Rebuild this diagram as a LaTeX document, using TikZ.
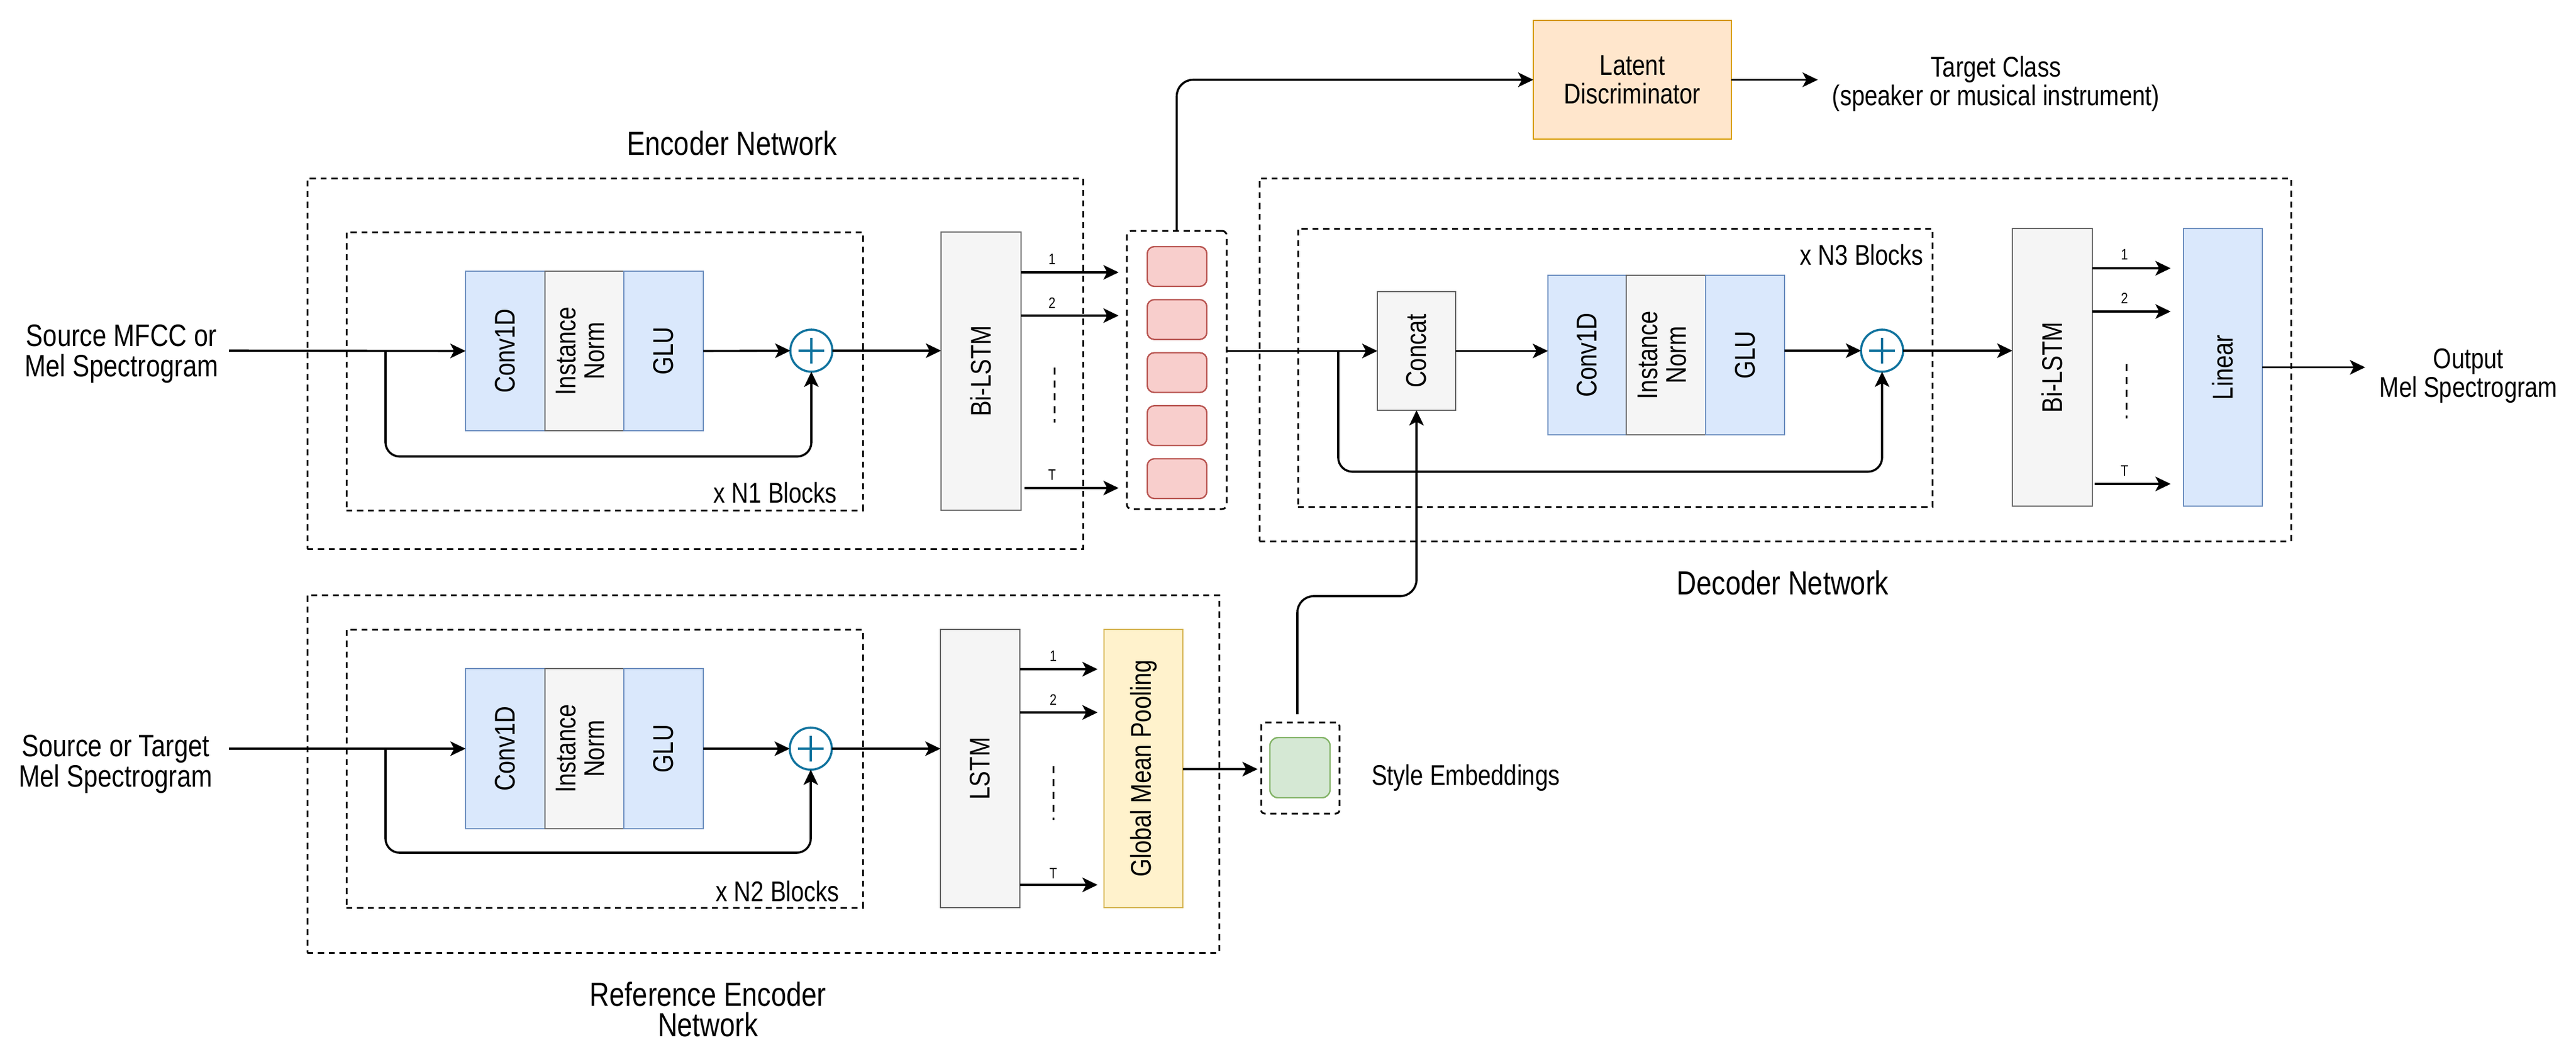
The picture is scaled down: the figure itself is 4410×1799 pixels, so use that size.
\documentclass[tikz,border=0pt]{standalone}
\usepackage{fontspec}
\setmainfont{Liberation Sans}[FakeStretch=0.82]
\usetikzlibrary{arrows.meta,calc}
\definecolor{blueF}{HTML}{DAE8FC}\definecolor{blueD}{HTML}{6C8EBF}
\definecolor{greyF}{HTML}{F5F5F5}\definecolor{greyD}{HTML}{666666}
\definecolor{redF}{HTML}{F8CECC}\definecolor{redD}{HTML}{B85450}
\definecolor{orF}{HTML}{FFE6CC}\definecolor{orD}{HTML}{D79B00}
\definecolor{yelF}{HTML}{FFF2CC}\definecolor{yelD}{HTML}{D6B656}
\definecolor{grnF}{HTML}{D5E8D4}\definecolor{grnD}{HTML}{82B366}
\definecolor{sumD}{HTML}{10739E}
\begin{document}
\begin{tikzpicture}[x=0.25pt,y=-0.25pt,
  every node/.style={inner sep=0pt,outer sep=0pt},
  sz/.style 2 args={minimum width=#1*0.25pt,minimum height=#2*0.25pt},
  dashbox/.style={draw=black,dash pattern=on 2.6pt off 2pt,line width=0.75pt},
  bfont/.style={font=\fontsize{12.2}{12.3}\selectfont},
  bluebox/.style={draw=blueD,fill=blueF,line width=0.6pt,bfont},
  greybox/.style={draw=greyD,fill=greyF,line width=0.6pt,bfont},
  redcell/.style={draw=redD,fill=redF,line width=0.6pt,rounded corners=3pt,sz={102}{68}},
  sum/.style={circle,draw=sumD,line width=0.9pt,minimum size=18pt,
    path picture={\draw[sumD,line width=0.9pt]
      ([xshift=-5.5pt]path picture bounding box.center) -- ([xshift=5.5pt]path picture bounding box.center)
      ([yshift=-5.5pt]path picture bounding box.center) -- ([yshift=5.5pt]path picture bounding box.center);}},
  arr/.style={draw=black,line width=0.9pt,-{Stealth[length=6.5pt,width=6.2pt,inset=1.6pt]}},
  lbl/.style={font=\fontsize{12.2}{12.3}\selectfont,align=center},
  inlbl/.style={font=\fontsize{13.25}{13}\selectfont,align=center},
  title/.style={font=\fontsize{14.3}{13}\selectfont,align=center},
  num/.style={font=\fontsize{6.5}{7}\selectfont},
  dots/.style={draw=black,line width=0.75pt,dash pattern=on 3pt off 2.5pt}
]
\useasboundingbox (0,0) rectangle (4410,1799);

% ================= Encoder =================
\node[title] (encT) at (1253,245) {Encoder Network};
\node[dashbox,sz={1328}{634}] (encOuter) at (1190,622) {};
\node[dashbox,sz={884}{476}] (encInner) at (1035,635) {};
\node[lbl,anchor=east] (n1) at (1433,843) {x N1 Blocks};
\node[bluebox,sz={136}{273}] (eConv) at (865,600.5) {\rotatebox{90}{Conv1D}};
\node[greybox,sz={135}{273}] (eNorm) at (1000.5,600.5) {\rotatebox{90}{\begin{tabular}{@{}c@{}}Instance\\Norm\end{tabular}}};
\node[bluebox,sz={136}{273}] (eGlu) at (1136,600.5) {\rotatebox{90}{GLU}};
\node[sum] (ePlus) at (1389,600) {};
\node[greybox,sz={137}{476}] (eLstm) at (1679.5,635) {\rotatebox{90}{Bi-LSTM}};
\node[inlbl] (eIn) at (208,605) {Source MFCC or\\Mel Spectrogram};
\coordinate (eStart) at (392,600);
\coordinate (eBranch) at (660,600);
\coordinate (eLow) at (660,781);
\draw[arr] (eStart) -- (eConv.west);
\draw[arr,rounded corners=6pt] (eBranch) -- (eLow) -| (ePlus.south);
\draw[arr] (eGlu.east) -- (ePlus.west);
\draw[arr] (ePlus.east) -- (ePlus.east -| eLstm.west);

% latent container
\node[dashbox,rounded corners=2pt,sz={171}{476}] (redC) at (2014.5,633) {};
\node[redcell] (r1) at (2015,456) {};
\node[redcell] (r2) at (2015,546.75) {};
\node[redcell] (r3) at (2015,637.5) {};
\node[redcell] (r4) at (2015,728.25) {};
\node[redcell] (r5) at (2015,819) {};
\coordinate (eo1) at (1748,466);\coordinate (ei1) at (1915,466);
\coordinate (eo2) at (1748,540);\coordinate (ei2) at (1915,540);
\coordinate (eoT) at (1754,835);\coordinate (eiT) at (1915,835);
\draw[arr] (eo1) -- (ei1);
\draw[arr] (eo2) -- (ei2);
\draw[arr] (eoT) -- (eiT);
\node[num] (l1a) at (1801,444) {1};
\node[num] (l2a) at (1801,518) {2};
\node[num] (lTa) at (1801,813) {T};
\draw[dots] (1805,629) -- (1805,723);

% latent discriminator
\node[draw=orD,fill=orF,line width=0.6pt,sz={339}{203},lbl] (ld) at (2794.5,136.5) {Latent\\Discriminator};
\draw[arr,rounded corners=7pt] (redC.north) |- (ld.west);
\coordinate (ldOut) at (3112,136.5);
\draw[arr] (ld.east) -- (ldOut);
\node[lbl] (tc) at (3417,143) {Target Class\\(speaker or musical instrument)};

% ================= Decoder =================
\node[dashbox,sz={1766}{621}] (decOuter) at (3039,615.5) {};
\node[dashbox,sz={1086}{476}] (decInner) at (2765,629) {};
\node[lbl,anchor=east] (n3) at (3293,436) {x N3 Blocks};
\node[title] (decT) at (3052,997) {Decoder Network};
\node[greybox,sz={134}{203}] (concat) at (2425,600.5) {\rotatebox{90}{Concat}};
\node[bluebox,sz={134}{273}] (dConv) at (2717,607.5) {\rotatebox{90}{Conv1D}};
\node[greybox,sz={136}{273}] (dNorm) at (2852,607.5) {\rotatebox{90}{\begin{tabular}{@{}c@{}}Instance\\Norm\end{tabular}}};
\node[bluebox,sz={135}{273}] (dGlu) at (2987.5,607.5) {\rotatebox{90}{GLU}};
\node[sum] (dPlus) at (3222,600) {};
\node[greybox,sz={137}{475}] (dLstm) at (3513.5,628.5) {\rotatebox{90}{Bi-LSTM}};
\node[bluebox,sz={135}{475}] (lin) at (3805.5,628.5) {\rotatebox{90}{Linear}};
\coordinate (dBranch) at (2291,600.5);
\coordinate (dLow) at (2291,807);
\draw[arr] (redC.east |- concat.west) -- (concat.west);
\draw[arr,rounded corners=6pt] (dBranch) -- (dLow) -| (dPlus.south);
\draw[arr] (concat.east) -- (concat.east -| dConv.west);
\draw[arr] (dGlu.east |- dPlus.west) -- (dPlus.west);
\draw[arr] (dPlus.east) -- (dPlus.east -| dLstm.west);
\coordinate (do1) at (3582,459);\coordinate (di1) at (3716,459);
\coordinate (do2) at (3582,533);\coordinate (di2) at (3716,533);
\coordinate (doT) at (3586,828);\coordinate (diT) at (3716,828);
\draw[arr] (do1) -- (di1);
\draw[arr] (do2) -- (di2);
\draw[arr] (doT) -- (diT);
\node[num] (l1d) at (3637,436) {1};
\node[num] (l2d) at (3637,510) {2};
\node[num] (lTd) at (3637,806) {T};
\draw[dots] (3640,623) -- (3640,716);
\coordinate (outEnd) at (4049,628.5);
\draw[arr] (lin.east) -- (outEnd);
\node[lbl] (outT) at (4226,643) {Output\\Mel Spectrogram};

% ================= Reference encoder =================
\node[dashbox,sz={1561}{612}] (refOuter) at (1306.5,1324) {};
\node[dashbox,sz={884}{476}] (refInner) at (1035,1315) {};
\node[lbl,anchor=east] (n2) at (1437,1525) {x N2 Blocks};
\node[title] (refT) at (1212,1727) {Reference Encoder\\Network};
\node[bluebox,sz={136}{274}] (rConv) at (865,1281) {\rotatebox{90}{Conv1D}};
\node[greybox,sz={135}{274}] (rNorm) at (1000.5,1281) {\rotatebox{90}{\begin{tabular}{@{}c@{}}Instance\\Norm\end{tabular}}};
\node[bluebox,sz={136}{274}] (rGlu) at (1136,1281) {\rotatebox{90}{GLU}};
\node[sum] (rPlus) at (1388,1281) {};
\node[greybox,sz={136}{476}] (rLstm) at (1678,1315) {\rotatebox{90}{LSTM}};
\node[draw=yelD,fill=yelF,line width=0.6pt,sz={135}{476},bfont] (gmp) at (1957.5,1315) {\rotatebox{90}{Global Mean Pooling}};
\node[inlbl] (rIn) at (198,1307) {Source or Target\\Mel Spectrogram};
\coordinate (rStart) at (392,1281);
\coordinate (rBranch) at (660,1281);
\coordinate (rLow) at (660,1459);
\draw[arr] (rStart) -- (rConv.west);
\draw[arr,rounded corners=6pt] (rBranch) -- (rLow) -| (rPlus.south);
\draw[arr] (rGlu.east) -- (rPlus.west);
\draw[arr] (rPlus.east) -- (rPlus.east -| rLstm.west);
\coordinate (ro1) at (1746,1145);\coordinate (ri1) at (1879,1145);
\coordinate (ro2) at (1746,1219);\coordinate (ri2) at (1879,1219);
\coordinate (roT) at (1746,1514);\coordinate (riT) at (1879,1514);
\draw[arr] (ro1) -- (ri1);
\draw[arr] (ro2) -- (ri2);
\draw[arr] (roT) -- (riT);
\node[num] (l1r) at (1803,1123) {1};
\node[num] (l2r) at (1803,1197) {2};
\node[num] (lTr) at (1803,1495) {T};
\draw[dots] (1803,1311) -- (1803,1403);

% style embedding
\node[dashbox,rounded corners=1.5pt,sz={134}{156}] (styC) at (2226,1314) {};
\node[draw=grnD,fill=grnF,line width=0.6pt,rounded corners=3.5pt,sz={103}{103}] (sty) at (2225.5,1313.5) {};
\node[lbl,anchor=west] (styT) at (2348,1331) {Style Embeddings};
\coordinate (gmpOut) at (2153,1316);
\draw[arr] (gmp.east |- gmpOut) -- (gmpOut);
\coordinate (styTop) at (2221,1222);
\coordinate (styMid) at (2221,1020);
\draw[arr,rounded corners=7pt] (styTop) -- (styMid) -| (concat.south);
\end{tikzpicture}
\end{document}
